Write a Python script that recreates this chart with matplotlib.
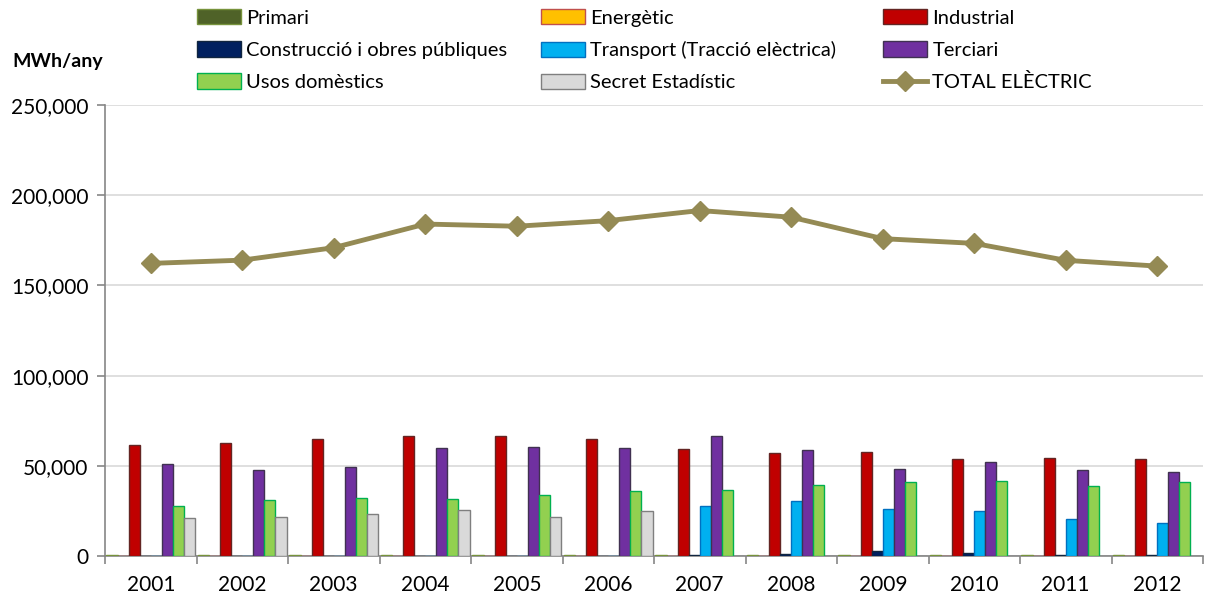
import matplotlib.pyplot as plt
import numpy as np
from matplotlib.ticker import FuncFormatter, MultipleLocator

plt.rcParams['font.family'] = ['Lato', 'DejaVu Sans']

years = ["2001", "2002", "2003", "2004", "2005", "2006",
         "2007", "2008", "2009", "2010", "2011", "2012"]

primari = [500, 500, 500, 500, 500, 500, 500, 500, 500, 500, 500, 500]
energetic = [0, 0, 0, 0, 0, 0, 0, 0, 0, 0, 0, 0]
industrial = [61300, 62900, 65000, 66700, 66300, 64800,
              59400, 57050, 57600, 53500, 54600, 53900]
construccio = [0, 0, 0, 0, 0, 0, 700, 1300, 2800, 1500, 700, 600]
transport = [0, 0, 0, 0, 0, 0, 27950, 30700, 26300, 24800, 20700, 18200]
terciari = [51100, 47600, 49400, 59600, 60200, 60000,
            66500, 59000, 48500, 52050, 47900, 46500]
domestics = [27900, 31300, 32200, 31800, 33900, 35900,
             36800, 39300, 40900, 41300, 39050, 41100]
secret = [21300, 21500, 23500, 25550, 21650, 25000, 0, 0, 0, 0, 0, 0]
total = [162200, 164000, 170900, 184000, 182800, 185900,
         191500, 187800, 175900, 173300, 163900, 160700]

series = [
    ("Primari", primari, "#4F6228", "#77933C"),
    ("Energètic", energetic, "#FFC000", "#C0504D"),
    ("Industrial", industrial, "#C00000", "#632523"),
    ("Construcció i obres públiques", construccio, "#002060", "#10253F"),
    ("Transport (Tracció elèctrica)", transport, "#00B0F0", "#0070C0"),
    ("Terciari", terciari, "#7030A0", "#403151"),
    ("Usos domèstics", domestics, "#92D050", "#00B050"),
    ("Secret Estadístic", secret, "#D9D9D9", "#7F7F7F"),
]

fig = plt.figure(figsize=(12.05, 6), dpi=100)
ax = fig.add_axes([105 / 1205, 44 / 600, 1098 / 1205, 451 / 600])

x = np.arange(len(years))
w = 0.121
handles = {}
for i, (name, vals, fc, ec) in enumerate(series):
    b = ax.bar(x + (i - 3.5) * w, vals, w, color=fc, edgecolor=ec,
               linewidth=1.0, label=name, zorder=3)
    handles[name] = b

ln, = ax.plot(x, total, color="#948A54", linewidth=3.5, marker="D",
              markersize=10, label="TOTAL ELÈCTRIC", zorder=4)
handles["TOTAL ELÈCTRIC"] = ln

ax.set_xlim(-0.5, len(years) - 0.5)
ax.set_ylim(0, 250000)
ax.yaxis.set_major_locator(MultipleLocator(50000))
ax.yaxis.set_major_formatter(FuncFormatter(lambda v, p: "{:,.0f}".format(v)))
ax.grid(axis="y", color="#D9D9D9", linewidth=1.2, zorder=0)
ax.set_axisbelow(True)

ax.set_xticks(x)
ax.set_xticklabels(years)
ax.set_xticks(np.arange(-0.5, len(years)), minor=True)
ax.tick_params(axis="x", which="major", length=0, pad=14, labelsize=15)
ax.tick_params(axis="x", which="minor", length=6, color="#868686", width=1.2)
ax.tick_params(axis="y", length=6, color="#868686", width=1.2, labelsize=15, pad=6)

for s in ["top", "right"]:
    ax.spines[s].set_visible(False)
for s in ["left", "bottom"]:
    ax.spines[s].set_color("#868686")
    ax.spines[s].set_linewidth(1.2)

fig.text(12 / 1205, 1 - 62 / 600, "MWh/any", fontsize=14, fontweight="bold",
         va="center", ha="left")

# three legend columns, laid out row by row like the original
columns = [
    (197, ["Primari", "Construcció i obres públiques", "Usos domèstics"]),
    (541, ["Energètic", "Transport (Tracció elèctrica)", "Secret Estadístic"]),
    (883, ["Industrial", "Terciari", "TOTAL ELÈCTRIC"]),
]
for xpos, names in columns:
    leg = fig.legend([handles[n] for n in names], names, loc="upper left",
                     bbox_to_anchor=(xpos / 1205, 1 - 9 / 600), frameon=False,
                     fontsize=14.5, borderpad=0, borderaxespad=0,
                     handlelength=2.2, handleheight=0.8, handletextpad=0.25,
                     labelspacing=0.72)

fig.savefig("out.png", dpi=100)
